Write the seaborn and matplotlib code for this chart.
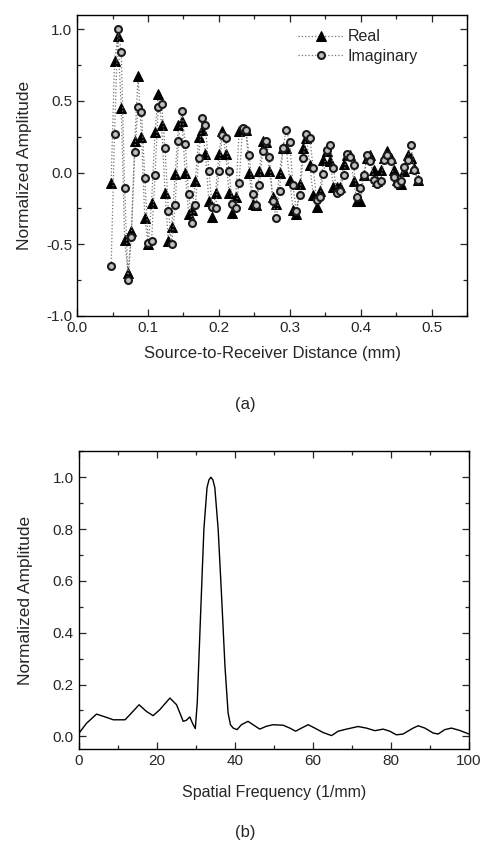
import seaborn as sns
import pandas as pd
import matplotlib.pyplot as plt
from matplotlib.ticker import MultipleLocator

sns.set_style("ticks")
plt.rcParams['font.family'] = ['Liberation Sans', 'DejaVu Sans']
plt.rcParams['axes.unicode_minus'] = False
plt.rcParams['xtick.direction'] = 'in'
plt.rcParams['ytick.direction'] = 'in'

# (a) sampled signal vs source-to-receiver distance
distance = [0.0480, 0.0528, 0.0575, 0.0623, 0.0670, 0.0718, 0.0765, 0.0813, 0.0860, 0.0908,
            0.0955, 0.1003, 0.1050, 0.1098, 0.1145, 0.1193, 0.1240, 0.1288, 0.1335, 0.1383,
            0.1430, 0.1478, 0.1525, 0.1573, 0.1620, 0.1668, 0.1715, 0.1763, 0.1810, 0.1858,
            0.1905, 0.1953, 0.2000, 0.2048, 0.2095, 0.2143, 0.2190, 0.2238, 0.2285, 0.2333,
            0.2380, 0.2428, 0.2475, 0.2523, 0.2570, 0.2618, 0.2665, 0.2713, 0.2760, 0.2808,
            0.2855, 0.2903, 0.2950, 0.2998, 0.3045, 0.3093, 0.3140, 0.3188, 0.3235, 0.3283,
            0.3330, 0.3378, 0.3425, 0.3473, 0.3520, 0.3568, 0.3615, 0.3663, 0.3710, 0.3758,
            0.3805, 0.3853, 0.3900, 0.3948, 0.3995, 0.4043, 0.4090, 0.4138, 0.4185, 0.4233,
            0.4280, 0.4328, 0.4375, 0.4423, 0.4470, 0.4518, 0.4565, 0.4613, 0.4660, 0.4708,
            0.4755, 0.4803]
real = [-0.07, 0.78, 0.95, 0.45, -0.47, -0.70, -0.41, 0.22, 0.67, 0.25,
        -0.32, -0.50, -0.21, 0.28, 0.55, 0.33, -0.14, -0.48, -0.38, -0.01,
        0.33, 0.36, 0.00, -0.29, -0.26, -0.06, 0.25, 0.30, 0.13, -0.20,
        -0.31, -0.14, 0.13, 0.29, 0.13, -0.14, -0.28, -0.17, 0.29, 0.30,
        0.30, 0.00, -0.22, -0.23, 0.01, 0.22, 0.21, 0.01, -0.17, -0.22,
        0.00, 0.17, 0.17, -0.05, -0.26, -0.29, -0.08, 0.17, 0.24, 0.05,
        -0.16, -0.24, -0.13, 0.09, 0.15, 0.08, -0.10, -0.10, -0.10, 0.06,
        0.12, 0.12, -0.06, -0.20, -0.20, -0.02, 0.10, 0.12, 0.02, -0.06,
        0.02, 0.10, 0.15, 0.10, 0.02, -0.05, -0.08, 0.01, 0.12, 0.10,
        0.03, -0.05]
imaginary = [-0.65, 0.27, 1.00, 0.84, -0.11, -0.75, -0.45, 0.14, 0.46, 0.42,
             -0.04, -0.49, -0.48, -0.02, 0.46, 0.48, 0.17, -0.27, -0.50, -0.23,
             0.22, 0.43, 0.20, -0.15, -0.35, -0.23, 0.10, 0.38, 0.33, 0.01,
             -0.24, -0.25, 0.01, 0.26, 0.24, 0.01, -0.22, -0.25, -0.07, 0.31,
             0.30, 0.12, -0.15, -0.23, -0.09, 0.15, 0.22, 0.11, -0.20, -0.32,
             -0.13, 0.17, 0.30, 0.21, -0.09, -0.27, -0.16, 0.10, 0.27, 0.24,
             0.03, -0.19, -0.17, -0.01, 0.16, 0.19, 0.03, -0.14, -0.13, -0.02,
             0.13, 0.11, 0.05, -0.17, -0.11, -0.02, 0.12, 0.08, -0.05, -0.08,
             -0.06, 0.09, 0.12, 0.08, -0.03, -0.08, -0.06, 0.04, 0.09, 0.19,
             0.02, -0.05]

# (b) spectrum
freq = [0, 2, 4.6, 7.2, 8.9, 11.9, 13.1, 15.5, 17.4, 19.1, 20.8, 23.4, 25.1, 26.8, 27.6,
        28.5, 29.2, 29.9, 30.4, 31.2, 32.1, 32.9, 33.4, 33.9, 34.4, 34.9, 35.75, 36.6, 37.5,
        38.3, 38.9, 39.6, 40.6, 41.7, 43.4, 44.7, 46.4, 48.1, 49.8, 52.4, 54.1, 55.6, 57.1,
        58.8, 60.5, 62.6, 64.8, 66.5, 68.6, 71.6, 73.7, 75.9, 78.0, 79.7, 81.4, 83.1, 85.7,
        87.0, 88.7, 90.8, 92.1, 93.8, 95.5, 97.6, 100]
spectrum = [0.01, 0.05, 0.086, 0.073, 0.064, 0.064, 0.083, 0.122, 0.096, 0.080, 0.103, 0.148,
            0.122, 0.058, 0.062, 0.075, 0.050, 0.030, 0.13, 0.45, 0.80, 0.96, 0.99, 1.00,
            0.99, 0.96, 0.80, 0.55, 0.27, 0.09, 0.045, 0.032, 0.026, 0.045, 0.058, 0.045,
            0.028, 0.039, 0.045, 0.043, 0.032, 0.020, 0.032, 0.045, 0.032, 0.015, 0.003,
            0.020, 0.028, 0.038, 0.032, 0.022, 0.028, 0.020, 0.006, 0.009, 0.032, 0.041,
            0.032, 0.013, 0.009, 0.026, 0.032, 0.023, 0.009]

df_a = pd.DataFrame({'dist': distance, 'real': real, 'imag': imaginary})
df_b = pd.DataFrame({'freq': freq, 'amp': spectrum})

fig = plt.figure(figsize=(4.85, 8.49), dpi=100)
ax1 = fig.add_axes([0.159, 0.628, 0.804, 0.3545])
ax2 = fig.add_axes([0.162, 0.1174, 0.805, 0.351])

sns.lineplot(data=df_a, x='dist', y='real', ax=ax1, color='0.45', linestyle=':', lw=0.9,
             marker='^', markersize=6.5, markerfacecolor='k', markeredgecolor='k', label='Real')
sns.lineplot(data=df_a, x='dist', y='imag', ax=ax1, color='0.45', linestyle=':', lw=0.9,
             marker='o', markersize=5, markerfacecolor='0.75', markeredgecolor='0.1',
             markeredgewidth=1.5, label='Imaginary')
ax1.set_xlim(0, 0.55)
ax1.set_ylim(-1.0, 1.1)
ax1.xaxis.set_major_locator(MultipleLocator(0.1))
ax1.xaxis.set_minor_locator(MultipleLocator(0.05))
ax1.yaxis.set_major_locator(MultipleLocator(0.5))
ax1.yaxis.set_minor_locator(MultipleLocator(0.25))
ax1.set_xlabel('Source-to-Receiver Distance (mm)', fontsize=12, labelpad=8)
ax1.set_ylabel('Normalized Amplitude', fontsize=12.5, labelpad=10)
ax1.legend(loc='upper left', bbox_to_anchor=(0.53, 1.0), frameon=False, fontsize=11.5,
           handlelength=2.8, handletextpad=0.3, labelspacing=0.3, numpoints=1)

sns.lineplot(data=df_b, x='freq', y='amp', ax=ax2, color='k', lw=1.0)
ax2.set_xlim(0, 100)
ax2.set_ylim(-0.05, 1.1)
ax2.xaxis.set_major_locator(MultipleLocator(20))
ax2.xaxis.set_minor_locator(MultipleLocator(10))
ax2.yaxis.set_major_locator(MultipleLocator(0.2))
ax2.yaxis.set_minor_locator(MultipleLocator(0.1))
ax2.set_xlabel('Spatial Frequency (1/mm)', fontsize=11.5, labelpad=12)
ax2.set_ylabel('Normalized Amplitude', fontsize=12.5, labelpad=14)

for ax in (ax1, ax2):
    ax.tick_params(which='both', top=True, right=True, direction='in', labelsize=11, width=0.9)
    ax.tick_params(which='major', length=5)
    ax.tick_params(which='minor', length=3)
    for s in ax.spines.values():
        s.set_linewidth(1.0)
        s.set_color('k')

fig.text(0.505, 0.523, '(a)', ha='center', va='center', fontsize=12)
fig.text(0.505, 0.02, '(b)', ha='center', va='center', fontsize=12)

fig.savefig('out.png', dpi=100)
